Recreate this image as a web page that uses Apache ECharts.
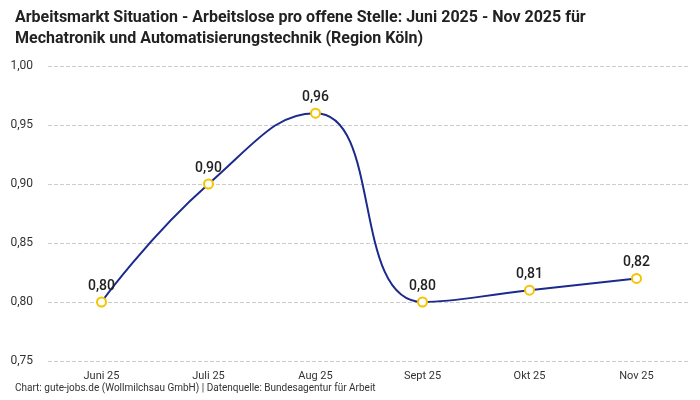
<!DOCTYPE html>
<html>
<head>
<meta charset="utf-8">
<script src="https://cdn.jsdelivr.net/npm/echarts@6/dist/echarts.min.js"></script>
<style>
  html, body { margin: 0; padding: 0; background: #fff; }
  #chart { width: 700px; height: 400px; }
</style>
</head>
<body>
<div id="chart"></div>
<script>
// Monate und Werte
const months = ['Juni 25', 'Juli 25', 'Aug 25', 'Sept 25', 'Okt 25', 'Nov 25'];
const ratio = [0.80, 0.90, 0.96, 0.80, 0.81, 0.82];

const titleText = 'Arbeitsmarkt Situation - Arbeitslose pro offene Stelle: Juni 2025 - Nov 2025 für\nMechatronik und Automatisierungstechnik (Region Köln)';
const sourceText = 'Chart: gute-jobs.de (Wollmilchsau GmbH) | Datenquelle: Bundesagentur für Arbeit';

const fmt = v => v.toFixed(2).replace('.', ',');

const chart = echarts.init(document.getElementById('chart'));

chart.setOption({
    animation: false,
    textStyle: { fontFamily: 'Roboto' },
    title: [
        {
            text: titleText,
            left: 10,
            top: 2,
            textStyle: {
                fontSize: 16,
                fontWeight: 'bold',
                color: '#222',
                lineHeight: 21
            }
        },
        {
            text: sourceText,
            left: 10,
            bottom: 2,
            textStyle: {
                fontSize: 10,
                fontWeight: 'normal',
                color: '#333'
            }
        }
    ],
    grid: {
        left: 48,
        right: 10,
        top: 66,
        bottom: 39,
        outerBoundsMode: 'none'
    },
    xAxis: {
        type: 'category',
        data: months,
        boundaryGap: true,
        axisLine: { show: false },
        axisTick: { show: false },
        axisLabel: {
            color: '#333',
            fontSize: 11,
            margin: 10
        }
    },
    yAxis: {
        type: 'value',
        min: 0.75,
        max: 1.00,
        interval: 0.05,
        axisLine: { show: false },
        axisTick: { show: false },
        axisLabel: {
            color: '#333',
            fontSize: 12,
            margin: 15,
            formatter: fmt
        },
        splitLine: {
            lineStyle: { color: '#cccccc', type: 'dashed', width: 1 }
        }
    },
    series: [
        {
            type: 'line',
            data: ratio,
            smooth: 0.5,
            symbol: 'circle',
            symbolSize: 9,
            lineStyle: { color: '#1b2a8c', width: 2 },
            itemStyle: {
                color: '#ffffff',
                borderColor: '#f5c400',
                borderWidth: 2
            },
            label: {
                show: true,
                position: 'top',
                distance: 3,
                fontSize: 14,
                fontWeight: 500,
                color: '#222',
                formatter: p => fmt(p.value)
            }
        }
    ]
});
</script>
</body>
</html>
